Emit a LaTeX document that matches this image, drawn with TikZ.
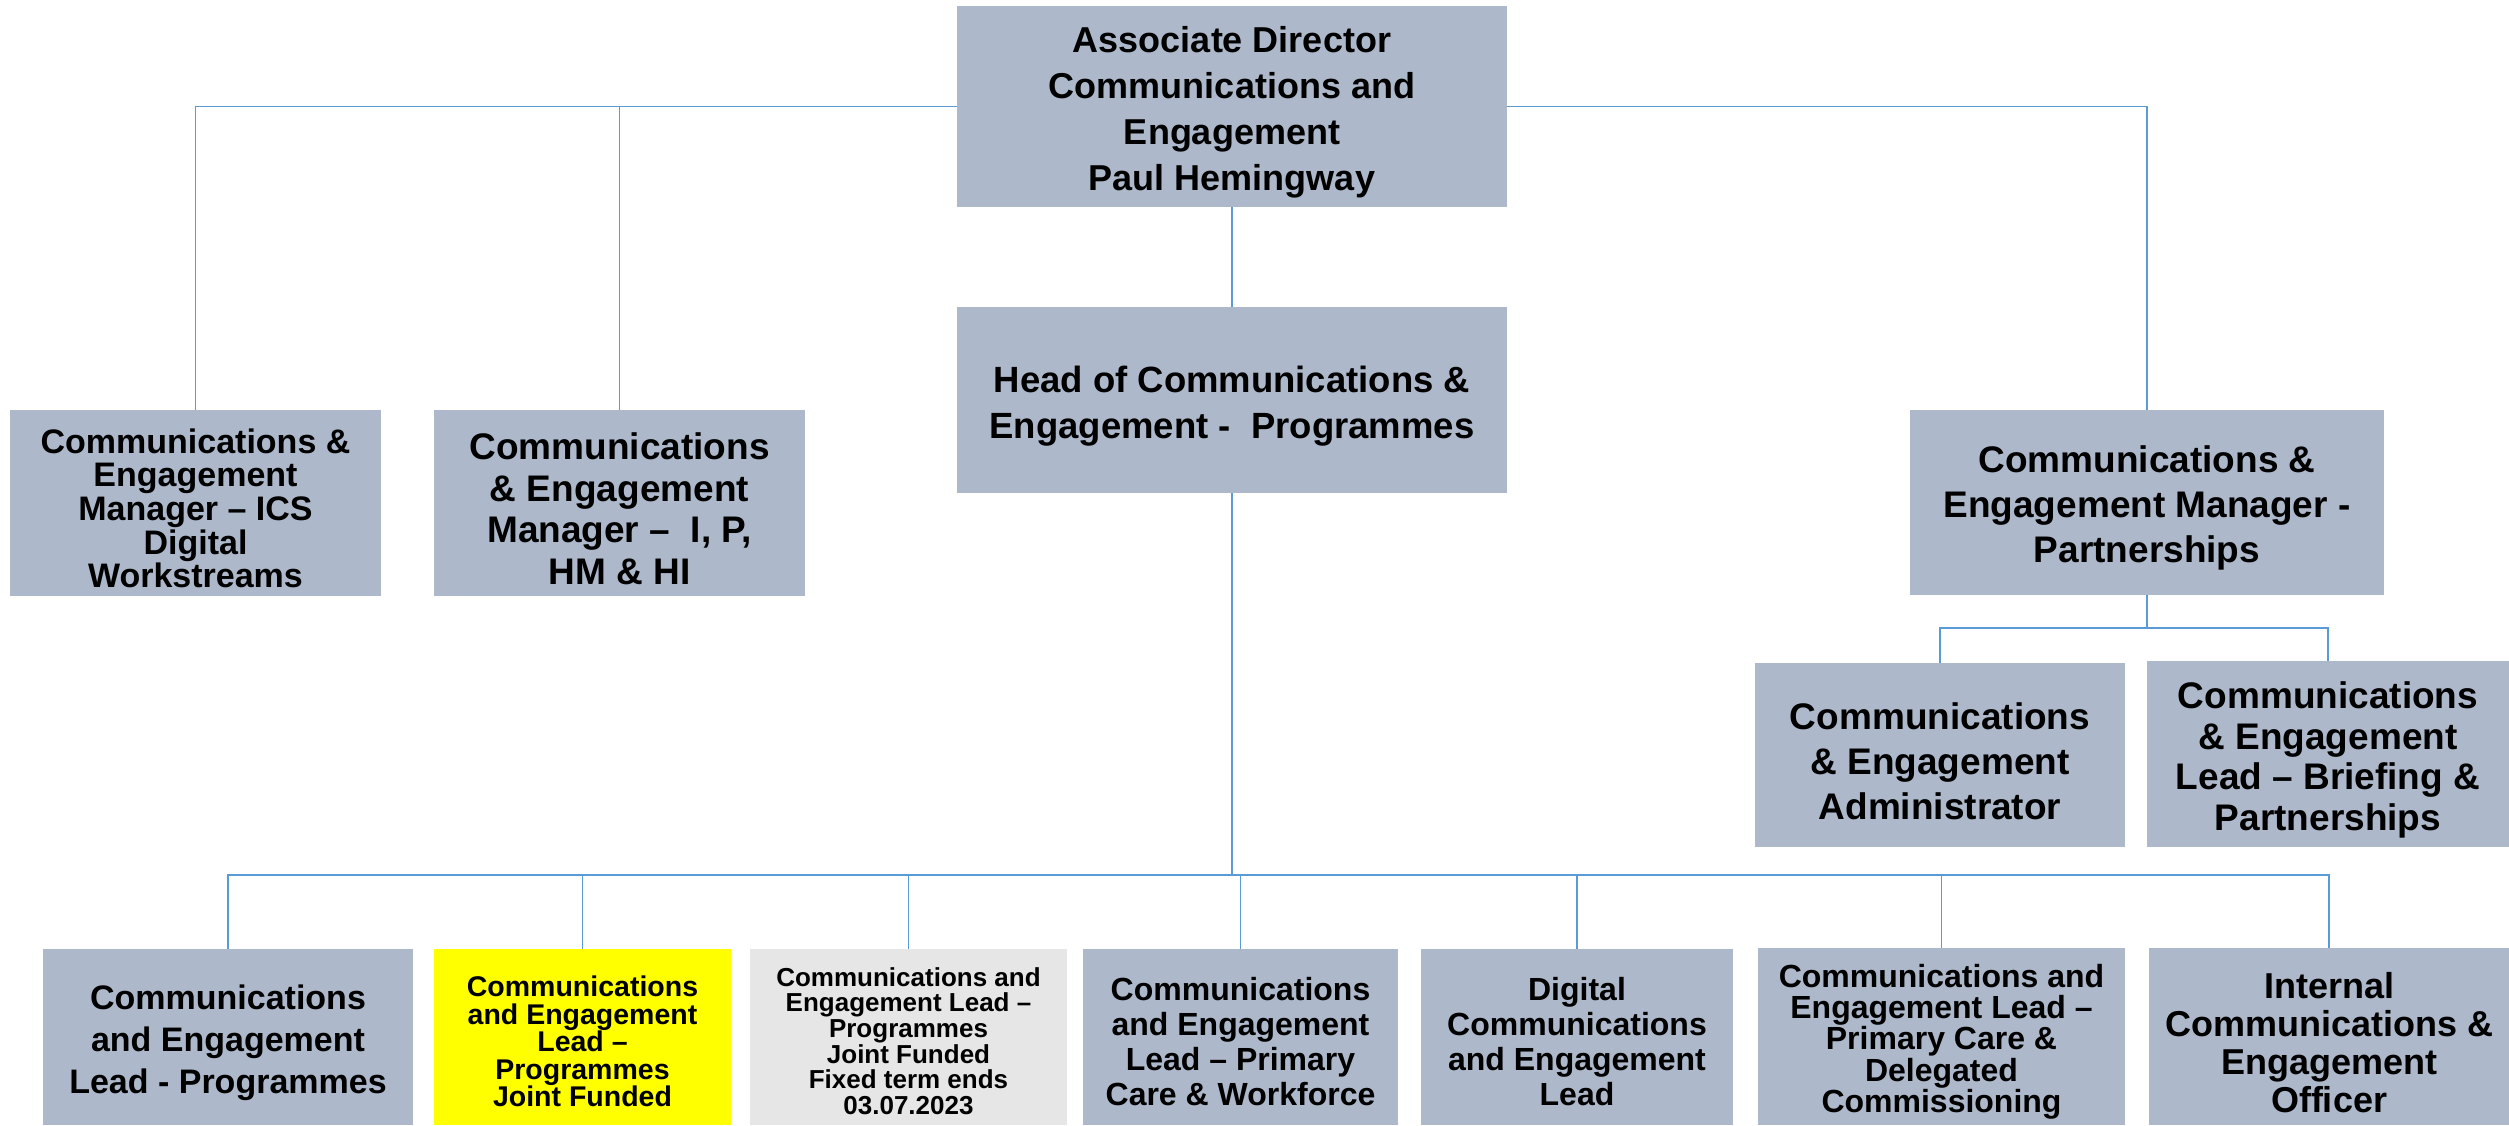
\documentclass[tikz,border=0pt]{standalone}
\usepackage{fontspec}
\setmainfont{Liberation Sans}
\definecolor{boxc}{RGB}{173,185,202}
\definecolor{greyc}{RGB}{231,230,230}
\definecolor{yelc}{RGB}{255,255,0}
\definecolor{linec}{RGB}{91,155,213}
\newcommand\myfs[2]{\fontsize{#1}{#2}\selectfont}
\newcommand\lowr{\rule{0pt}{1.04em}}
\tikzset{
  orgbox/.style={fill=boxc, draw=none, inner sep=0pt, align=center, text=black},
  fsz/.style 2 args={font=\bfseries\myfs{#1}{#2}},
  conn/.style={draw=linec, line width=1.6pt},
}
\begin{document}
\begin{tikzpicture}[x=1pt,y=-1pt]
\useasboundingbox (0,0) rectangle (2509,1125);
% top level
\node[orgbox, fsz={36}{46}, minimum width=550pt, minimum height=201pt] (top) at (1232,106.5)
  {\lowr Associate Director\\Communications and\\Engagement\\Paul Hemingway};
\node[orgbox, fsz={36.5}{46}, minimum width=550pt, minimum height=186pt] (head) at (1232,400)
  {\lowr Head of Communications \&\\Engagement -\ \ Programmes};
\node[orgbox, fsz={34}{33.6}, minimum width=371pt, minimum height=186pt] (l1) at (195.5,503)
  {\lowr Communications \&\\Engagement\\Manager – ICS\\Digital\\Workstreams};
\node[orgbox, fsz={37}{41.6}, minimum width=371pt, minimum height=186pt] (l2) at (619.5,503)
  {\lowr Communications\\\& Engagement\\Manager –\ \ I, P,\\HM \& HI};
\node[orgbox, fsz={37}{45}, minimum width=474pt, minimum height=185pt] (r) at (2147,502.5)
  {\lowr Communications \&\\Engagement Manager -\\Partnerships};
\node[orgbox, fsz={37}{45}, minimum width=370pt, minimum height=184pt] (admin) at (1940,755)
  {\lowr Communications\\\& Engagement\\Administrator};
\node[orgbox, fsz={37}{40.5}, minimum width=362pt, minimum height=186pt] (brief) at (2328,754)
  {\lowr Communications\\\& Engagement\\Lead – Briefing \&\\Partnerships};
% bottom row
\node[orgbox, fsz={34}{42}, minimum width=370pt, minimum height=176pt] (b1) at (228,1037)
  {\lowr Communications\\and Engagement\\Lead - Programmes};
\node[orgbox, fsz={28.5}{27.5}, fill=yelc, minimum width=297pt, minimum height=176pt] (b2) at (582.5,1037)
  {\lowr Communications\\and Engagement\\Lead –\\Programmes\\Joint Funded};
\node[orgbox, fsz={26}{25.7}, fill=greyc, minimum width=317pt, minimum height=176pt] (b3) at (908.5,1037)
  {\lowr Communications and\\Engagement Lead –\\Programmes\\Joint Funded\\Fixed term ends\\03.07.2023};
\node[orgbox, fsz={32}{35}, minimum width=315pt, minimum height=176pt] (b4) at (1240.5,1037)
  {\lowr Communications\\and Engagement\\Lead – Primary\\Care \& Workforce};
\node[orgbox, fsz={32}{35}, minimum width=312pt, minimum height=176pt] (b5) at (1577,1037)
  {\lowr Digital\\Communications\\and Engagement\\Lead};
\node[orgbox, fsz={32}{31.3}, minimum width=367pt, minimum height=177pt] (b6) at (1941.5,1036.5)
  {\lowr Communications and\\Engagement Lead –\\Primary Care \&\\Delegated\\Commissioning};
\node[orgbox, fsz={36}{38}, minimum width=360pt, minimum height=177pt] (b7) at (2329,1036.5)
  {\lowr Internal\\Communications \&\\Engagement\\Officer};
% connectors
\coordinate (hb) at (1232,875);
\coordinate (rb) at (2147,628);
\draw[conn] (top.west) -| (l1.north);
\draw[conn] (top.west) -| (l2.north);
\draw[conn] (top.east) -| (r.north);
\draw[conn] (top.south) -- (head.north);
\foreach \b in {b1,b2,b3,b4,b5,b6,b7}
  \draw[conn] (head.south) -- (hb) -| (\b.north);
\draw[conn] (r.south) -- (rb) -| (admin.north);
\draw[conn] (r.south) -- (rb) -| (brief.north);
\end{tikzpicture}
\end{document}
